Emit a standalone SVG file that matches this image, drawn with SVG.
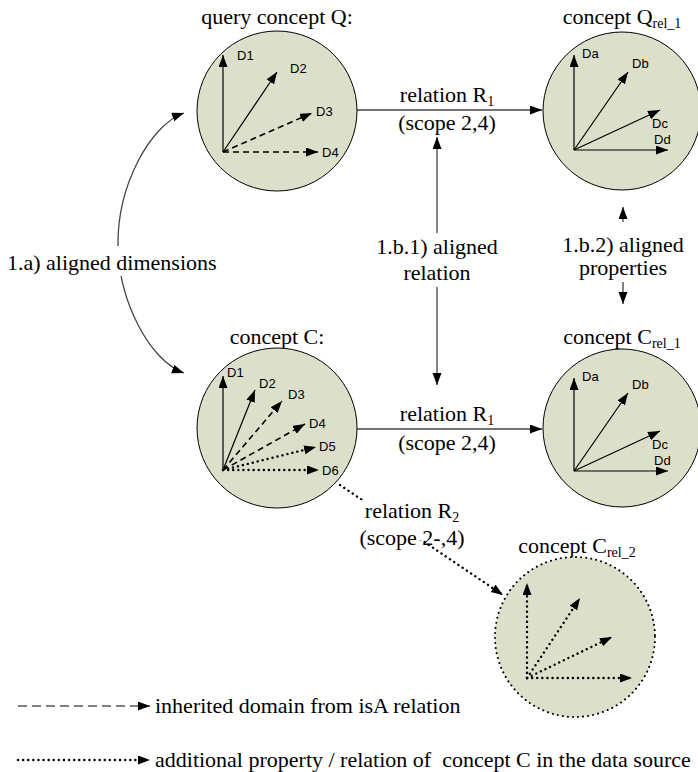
<svg xmlns="http://www.w3.org/2000/svg" width="698" height="772" viewBox="0 0 698 772">
  <style>
    .title { font-family: "Liberation Serif", "Times New Roman", serif; font-size: 22px; fill: #000; }
    .mid { text-anchor: middle; }
    .sub { font-size: 14px; }
    .dim { font-family: "Liberation Sans", Arial, sans-serif; font-size: 13px; fill: #000; }
    .concept { fill: #dcdfca; stroke: #000; stroke-width: 1; }
    .concept-dotted { fill: #dcdfca; stroke: #000; stroke-width: 2; stroke-dasharray: 0.1 5; stroke-linecap: round; }
    .vec { stroke: #000; stroke-width: 1.2; fill: none; marker-end: url(#head); }
    .dash { stroke-dasharray: 6 4; stroke-width: 1.6; }
    .dot { stroke-dasharray: 0.1 5; stroke-linecap: round; stroke-width: 2.4; }
    .rel { stroke: #444; stroke-width: 1.3; fill: none; marker-end: url(#head); }
    .align { stroke: #777; stroke-width: 1.8; fill: none; marker-end: url(#head); }
  </style>
  <defs>
    <marker id="head" markerUnits="userSpaceOnUse" markerWidth="14" markerHeight="10" refX="12" refY="4.5" orient="auto-start-reverse">
      <path d="M0,0 L12,4.5 L0,9 z" fill="#000"/>
    </marker>
  </defs>

  <!-- connectors -->
  <g id="connectors">
    <!-- 1.a) aligned dimensions -->
    <path class="rel" d="M184,113 C150,125 118,185 118,243 C118,301 150,361 184,373" stroke="#000" stroke-width="1" style="marker-start:url(#head)"/>
    <rect x="98" y="246" width="42" height="30" fill="#fff"/>
    <text class="title" x="7" y="270">1.a) aligned dimensions</text>

    <!-- relation R1 (top) -->
    <line class="rel" x1="357" y1="110" x2="542" y2="110"/>
    <text class="title mid" x="447" y="102">relation R<tspan class="sub" dy="4">1</tspan></text>
    <text class="title mid" x="447" y="130">(scope 2,4)</text>

    <!-- relation R1 (bottom) -->
    <line class="rel" x1="357" y1="429" x2="542" y2="429"/>
    <text class="title mid" x="447" y="421">relation R<tspan class="sub" dy="4">1</tspan></text>
    <text class="title mid" x="447" y="450">(scope 2,4)</text>

    <!-- 1.b.1) aligned relation -->
    <line class="align" x1="437" y1="233" x2="437" y2="137"/>
    <line class="align" x1="437" y1="287" x2="437" y2="385"/>
    <text class="title mid" x="437" y="254">1.b.1) aligned</text>
    <text class="title mid" x="437" y="280">relation</text>

    <!-- 1.b.2) aligned properties -->
    <line class="align" x1="623" y1="222" x2="623" y2="207"/>
    <line class="align" x1="623" y1="282" x2="623" y2="304"/>
    <text class="title mid" x="623" y="252">1.b.2) aligned</text>
    <text class="title mid" x="623" y="275">properties</text>

    <!-- relation R2 -->
    <line class="vec dot" x1="340" y1="485" x2="503" y2="595"/>
    <rect x="358" y="500" width="108" height="40" fill="#fff"/>
    <text class="title mid" x="412" y="518">relation R<tspan class="sub" dy="4">2</tspan></text>
    <text class="title mid" x="412" y="545">(scope 2-,4)</text>
  </g>

  <!-- query concept Q -->
  <g id="concept-q">
    <text class="title mid" x="277" y="24">query concept Q:</text>
    <circle class="concept" cx="277" cy="111" r="80"/>
    <line class="vec" x1="223" y1="152" x2="223" y2="55"/>
    <line class="vec" x1="223" y1="152" x2="277" y2="72"/>
    <line class="vec dash" x1="223" y1="152" x2="312" y2="113"/>
    <line class="vec dash" x1="223" y1="152" x2="318" y2="152"/>
    <text class="dim" x="237" y="60">D1</text>
    <text class="dim" x="290" y="73">D2</text>
    <text class="dim" x="316" y="116">D3</text>
    <text class="dim" x="322" y="157">D4</text>
  </g>

  <!-- concept Q rel_1 -->
  <g id="concept-q-rel1">
    <text class="title mid" x="622" y="24">concept Q<tspan class="sub" dy="4">rel_1</tspan></text>
    <circle class="concept" cx="622" cy="111" r="79"/>
    <line class="vec" x1="574" y1="150" x2="574" y2="55"/>
    <line class="vec" x1="574" y1="150" x2="628" y2="72"/>
    <line class="vec" x1="574" y1="150" x2="660" y2="110"/>
    <line class="vec" x1="574" y1="150" x2="668" y2="150"/>
    <text class="dim" x="582" y="58">Da</text>
    <text class="dim" x="632" y="68">Db</text>
    <text class="dim" x="652" y="128">Dc</text>
    <text class="dim" x="654" y="144">Dd</text>
  </g>

  <!-- concept C -->
  <g id="concept-c">
    <text class="title mid" x="277" y="344">concept C:</text>
    <circle class="concept" cx="277" cy="428" r="80"/>
    <line class="vec" x1="223" y1="470" x2="223" y2="376"/>
    <line class="vec" x1="223" y1="470" x2="255" y2="390"/>
    <line class="vec dash" x1="223" y1="470" x2="282" y2="401"/>
    <line class="vec dash" x1="223" y1="470" x2="305" y2="424"/>
    <line class="vec dot" x1="223" y1="470" x2="316" y2="447"/>
    <line class="vec dot" x1="223" y1="470" x2="319" y2="470"/>
    <text class="dim" x="227" y="377">D1</text>
    <text class="dim" x="259" y="388">D2</text>
    <text class="dim" x="288" y="399">D3</text>
    <text class="dim" x="309" y="428">D4</text>
    <text class="dim" x="319" y="451">D5</text>
    <text class="dim" x="322" y="475">D6</text>
  </g>

  <!-- concept C rel_1 -->
  <g id="concept-c-rel1">
    <text class="title mid" x="622" y="344">concept C<tspan class="sub" dy="4">rel_1</tspan></text>
    <circle class="concept" cx="622" cy="428" r="79"/>
    <line class="vec" x1="574" y1="471" x2="574" y2="378"/>
    <line class="vec" x1="574" y1="471" x2="628" y2="393"/>
    <line class="vec" x1="574" y1="471" x2="660" y2="431"/>
    <line class="vec" x1="574" y1="471" x2="668" y2="471"/>
    <text class="dim" x="582" y="381">Da</text>
    <text class="dim" x="632" y="389">Db</text>
    <text class="dim" x="652" y="449">Dc</text>
    <text class="dim" x="654" y="465">Dd</text>
  </g>

  <!-- concept C rel_2 -->
  <g id="concept-c-rel2">
    <text class="title mid" x="577" y="553">concept C<tspan class="sub" dy="4">rel_2</tspan></text>
    <circle class="concept-dotted" cx="575" cy="637" r="80"/>
    <line class="vec dot" x1="527" y1="678" x2="527" y2="583"/>
    <line class="vec dot" x1="527" y1="678" x2="580" y2="598"/>
    <line class="vec dot" x1="527" y1="678" x2="612" y2="637"/>
    <line class="vec dot" x1="527" y1="678" x2="632" y2="678"/>
  </g>

  <!-- legend -->
  <g id="legend">
    <line class="vec" x1="18" y1="706" x2="150" y2="706" stroke-dasharray="9 5" stroke-width="2"/>
    <text class="title" x="155" y="713">inherited domain from isA relation</text>
    <line class="vec dot" x1="18" y1="760" x2="150" y2="760" stroke-width="2"/>
    <text class="title" x="155" y="767" xml:space="preserve">additional property / relation of  concept C in the data source</text>
  </g>
</svg>
